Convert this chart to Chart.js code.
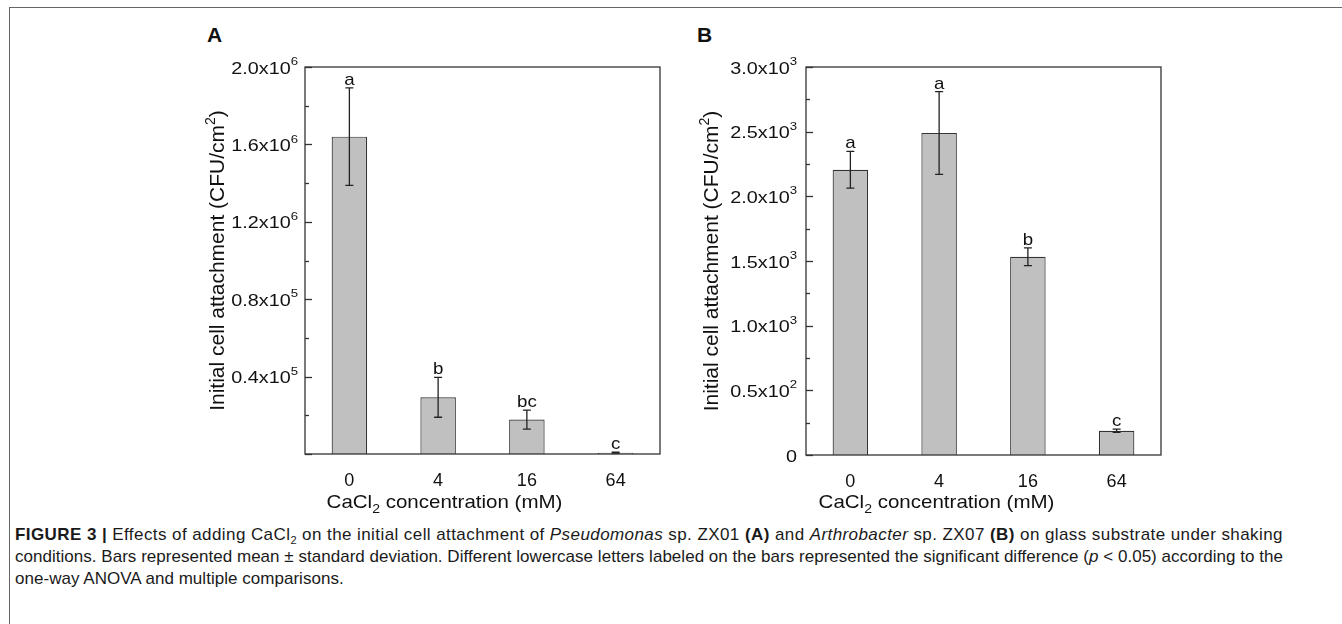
<!DOCTYPE html>
<html>
<head>
<meta charset="utf-8">
<script src="https://cdn.jsdelivr.net/npm/chart.js@4.4.1/dist/chart.umd.min.js"></script>
<style>
  html, body { margin: 0; padding: 0; background: #fff; }
  body { width: 1342px; height: 624px; position: relative; overflow: hidden; font-family: 'Liberation Sans', Arial, sans-serif; color: #111; }
  .frame { position: absolute; left: 9px; top: 7px; width: 1340px; height: 620px; border-top: 1.5px solid #666; border-left: 1.5px solid #666; }
  .panel { position: absolute; top: 0; }
  .tag { position: absolute; top: 23px; font-weight: bold; font-size: 21px; }
  .caption { position: absolute; left: 15px; top: 524px; font-family: 'Liberation Sans Narrow', 'Liberation Sans', Arial, sans-serif; font-size: 17px; line-height: 22px; color: #1a1a1a; }
  .caption div { white-space: nowrap; width: max-content; }
  .caption sub { font-size: 11px; line-height: 0; }
</style>
</head>
<body>
<div class="frame"></div>
<div class="tag" style="left:207px">A</div>
<div class="tag" style="left:697px">B</div>
<div class="panel" style="left:160px"><canvas id="chartA" width="520" height="520"></canvas></div>
<div class="panel" style="left:660px"><canvas id="chartB" width="520" height="520"></canvas></div>
<div class="caption" id="caption">
  <div><b>FIGURE 3 |</b> Effects of adding CaCl<sub>2</sub> on the initial cell attachment of <i>Pseudomonas</i> sp. ZX01 <b>(A)</b> and <i>Arthrobacter</i> sp. ZX07 <b>(B)</b> on glass substrate under shaking</div>
  <div>conditions. Bars represented mean ± standard deviation. Different lowercase letters labeled on the bars represented the significant difference (<i>p</i> &lt; 0.05) according to the</div>
  <div>one-way ANOVA and multiple comparisons.</div>
</div>
<script>
// CaCl2 concentration (mM)
const concentrations = ['0', '4', '16', '64'];

// Panel A - Pseudomonas sp. ZX01
const meanA = [1640000, 293000, 178000, 7000];
const sdA = [252000, 103000, 49000, 2000];
const lettersA = ['a', 'b', 'bc', 'c'];
const yTicksA = [400000, 800000, 1200000, 1600000, 2000000];
const yTickLabelsA = ['0.4x10^5', '0.8x10^5', '1.2x10^6', '1.6x10^6', '2.0x10^6'];

// Panel B - Arthrobacter sp. ZX07
const meanB = [2205, 2490, 1533, 188];
const sdB = [142, 320, 68, 12];
const lettersB = ['a', 'a', 'b', 'c'];
const yTicksB = [0, 500, 1000, 1500, 2000, 2500, 3000];
const yTickLabelsB = ['0', '0.5x10^2', '1.0x10^3', '1.5x10^3', '2.0x10^3', '2.5x10^3', '3.0x10^3'];

const FONT = "'Liberation Sans', Arial, sans-serif";
const INK = '#111';

// text made of normal / sup / sub pieces, stretched sideways by sx
function drawRich(ctx, parts, x, y, align, size, sx) {
  sx = sx || 1;
  const small = Math.round(size * 0.68);
  let total = 0;
  const widths = parts.map(p => {
    ctx.font = (p.s ? small : size) + 'px ' + FONT;
    const w = ctx.measureText(p.t).width;
    total += w;
    return w;
  });
  ctx.save();
  ctx.translate(x, y);
  ctx.scale(sx, 1);
  ctx.textAlign = 'left';
  let cx = align === 'right' ? -total : (align === 'center' ? -total / 2 : 0);
  parts.forEach((p, i) => {
    ctx.font = (p.s ? small : size) + 'px ' + FONT;
    let dy = 0;
    if (p.s === 'sup') dy = -size * 0.42;
    if (p.s === 'sub') dy = size * 0.24;
    ctx.fillText(p.t, cx, dy);
    cx += widths[i];
  });
  ctx.restore();
}

function parseTick(label) {
  const bits = label.split('^');
  const parts = [{ t: bits[0] }];
  if (bits[1]) parts.push({ t: bits[1], s: 'sup' });
  return parts;
}

function panelPlugin(mean, sd, letters, ticks, tickLabels, minorStep, look) {
  return {
    id: 'panelDecor',
    afterDatasetsDraw(chart) {
      const ctx = chart.ctx;
      const area = chart.chartArea;
      const y = chart.scales.y;
      const meta = chart.getDatasetMeta(0);
      ctx.save();

      // frame
      ctx.strokeStyle = '#333';
      ctx.lineWidth = 1.3;
      ctx.strokeRect(area.left, area.top, area.right - area.left, area.bottom - area.top);

      // inward ticks on the y axis
      for (let v = 0; v <= y.max + 1e-9; v += minorStep) {
        const py = Math.round(y.getPixelForValue(v)) + 0.5;
        const major = Math.round(v / minorStep) % 2 === 0;
        ctx.beginPath();
        ctx.moveTo(area.left, py);
        ctx.lineTo(area.left + (major ? 7 : 4), py);
        ctx.stroke();
      }

      // tick labels
      ctx.fillStyle = INK;
      ctx.textBaseline = 'middle';
      ticks.forEach((v, i) => {
        const py = y.getPixelForValue(v);
        drawRich(ctx, parseTick(tickLabels[i]), area.left - look.tickGap, py + 2, 'right', 16.5, 1.2);
      });

      // error bars and letters
      ctx.strokeStyle = '#222';
      ctx.lineWidth = 1.3;
      meta.data.forEach((bar, i) => {
        const top = y.getPixelForValue(mean[i] + sd[i]);
        const bot = y.getPixelForValue(mean[i] - sd[i]);
        ctx.beginPath();
        ctx.moveTo(bar.x, top); ctx.lineTo(bar.x, bot);
        ctx.moveTo(bar.x - 4, top); ctx.lineTo(bar.x + 4, top);
        ctx.moveTo(bar.x - 4, bot); ctx.lineTo(bar.x + 4, bot);
        ctx.stroke();
        ctx.textBaseline = 'alphabetic';
        drawRich(ctx, [{ t: letters[i] }], bar.x, top - 3, 'center', 17, 1.1);
      });

      // y title
      ctx.save();
      ctx.translate(area.left - look.yTitleGap, (area.top + area.bottom) / 2);
      ctx.rotate(-Math.PI / 2);
      ctx.textBaseline = 'alphabetic';
      drawRich(ctx, [{ t: 'Initial cell attachment (CFU/cm' }, { t: '2', s: 'sup' }, { t: ')' }], 0, 0, 'center', 21, 1);
      ctx.restore();

      // x title
      ctx.textBaseline = 'alphabetic';
      drawRich(ctx, [{ t: 'CaCl' }, { t: '2', s: 'sub' }, { t: ' concentration (mM)' }],
        (area.left + area.right) / 2 + look.titleShift, 508, 'center', 19, 1.08);

      ctx.restore();
    }
  };
}

function makeChart(id, mean, sd, letters, ticks, tickLabels, yMax, minorStep, look) {
  const ctx = document.getElementById(id).getContext('2d');
  return new Chart(ctx, {
    type: 'bar',
    data: {
      labels: concentrations,
      datasets: [{
        data: mean,
        backgroundColor: '#c0c0c0',
        borderColor: '#333',
        borderWidth: 1.2,
        categoryPercentage: 1,
        barPercentage: 0.4
      }]
    },
    options: {
      responsive: false,
      animation: false,
      devicePixelRatio: 1,
      layout: { padding: { top: 67, right: look.rightPad, bottom: 0, left: 0 } },
      plugins: { legend: { display: false }, tooltip: { enabled: false } },
      scales: {
        x: {
          grid: { display: false },
          border: { display: false },
          ticks: { color: INK, font: { family: FONT, size: 18 }, padding: 8, maxRotation: 0 },
          afterFit: s => { s.height = look.bottomH; }
        },
        y: {
          min: 0,
          max: yMax,
          grid: { display: false },
          border: { display: false },
          ticks: { display: false },
          afterFit: s => { s.width = look.leftW; }
        }
      }
    },
    plugins: [panelPlugin(mean, sd, letters, ticks, tickLabels, minorStep, look)]
  });
}

makeChart('chartA', meanA, sdA, lettersA, yTicksA, yTickLabelsA, 2000000, 200000,
  { leftW: 145, rightPad: 20, bottomH: 66, tickGap: 7, yTitleGap: 81, titleShift: -38 });
makeChart('chartB', meanB, sdB, lettersB, yTicksB, yTickLabelsB, 3000, 250,
  { leftW: 146, rightPad: 19, bottomH: 65, tickGap: 9, yTitleGap: 88, titleShift: -47 });

// stretch caption lines to the printed width
const cap = document.getElementById('caption').children;
const target = 1268;
let spacing = 0;
for (let i = 0; i < cap.length; i++) {
  const line = cap[i];
  if (i < 2) {
    line.style.letterSpacing = '0px';
    const w = line.getBoundingClientRect().width;
    const n = line.textContent.length;
    spacing = (target - w) / n;
  }
  line.style.letterSpacing = spacing.toFixed(3) + 'px';
}
</script>
</body>
</html>
